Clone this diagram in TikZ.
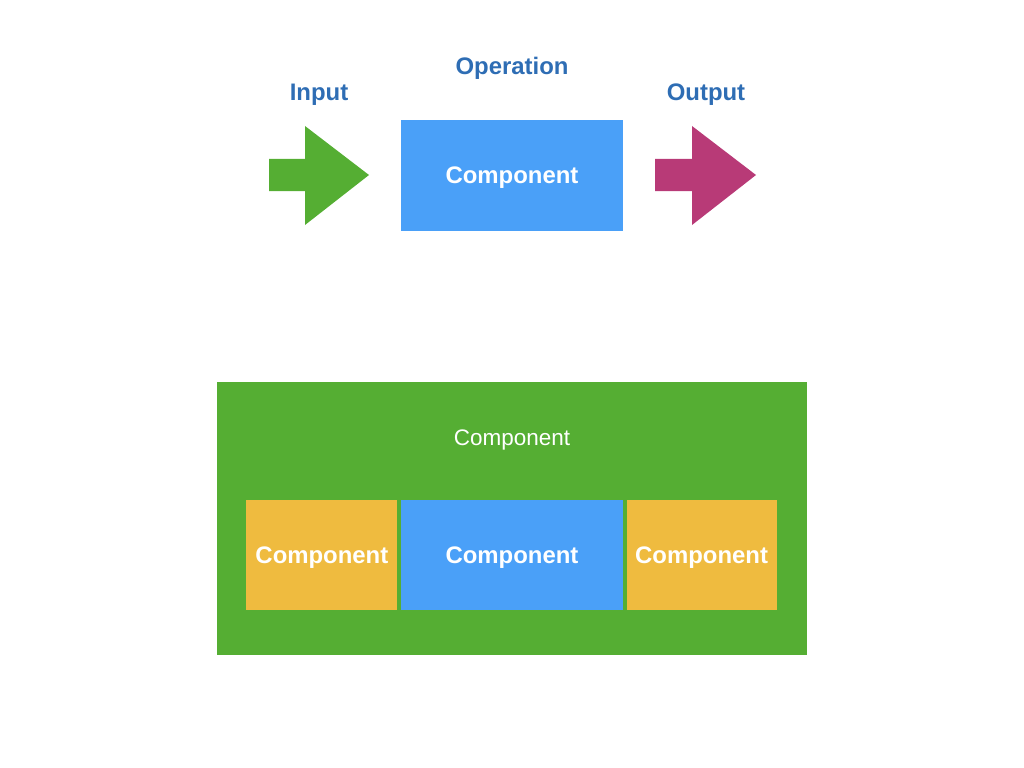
\documentclass[tikz,border=0pt]{standalone}
\usepackage{fontspec}
\setmainfont{Liberation Sans}
\usetikzlibrary{positioning}

\definecolor{compblue}{HTML}{4AA0F8}
\definecolor{compgreen}{HTML}{55AE33}
\definecolor{comporange}{HTML}{EFBB3F}
\definecolor{outmagenta}{HTML}{B83A77}
\definecolor{labelblue}{HTML}{2E6DB4}

\begin{document}
\begin{tikzpicture}[x=0.025cm, y=-0.025cm, node distance=0.075cm,
    comp/.style={fill=compblue, inner sep=0pt, text depth=0pt, text=white, font=\bfseries\fontsize{17}{20}\selectfont},
    part/.style={inner sep=0pt, text depth=0pt, minimum height=2.75cm, text=white, font=\bfseries\fontsize{17}{20}\selectfont},
    lbl/.style={anchor=base, inner sep=0pt, text=labelblue, font=\bfseries\fontsize{17}{20}\selectfont}]
    \useasboundingbox (0,0) rectangle (1024,768);

    % Define the single component with input and output
    \node (op) [comp, minimum width=5.55cm, minimum height=2.775cm] at (512,175.5) {Component};
    \fill[compgreen] (269,159) -- (305,159) -- (305,126) -- (369,175) -- (305,225) -- (305,191) -- (269,191) -- cycle;
    \fill[outmagenta] (655,159) -- (692,159) -- (692,126) -- (756,175) -- (692,225) -- (692,191) -- (655,191) -- cycle;

    % Labels above the top row
    \node (opl) [lbl] at (512,74.3) {Operation};
    \node (inl) [lbl] at (319,100.7) {Input};
    \node (outl) [lbl] at (706,100.7) {Output};

    % Define the composed component (outer box and its parts)
    \node (outer) [fill=compgreen, minimum width=14.75cm, minimum height=6.825cm] at (512,518.5) {};
    \node (title) [anchor=base, inner sep=0pt, text=white, font=\fontsize{16}{19}\selectfont] at (512,445.5) {Component};
    \node (mid) [part, fill=compblue, minimum width=5.55cm] at (512,555) {Component};
    \node (left) [part, fill=comporange, minimum width=3.775cm, left=of mid] {Component};
    \node (right) [part, fill=comporange, minimum width=3.75cm, right=of mid] {Component};

\end{tikzpicture}
\end{document}
